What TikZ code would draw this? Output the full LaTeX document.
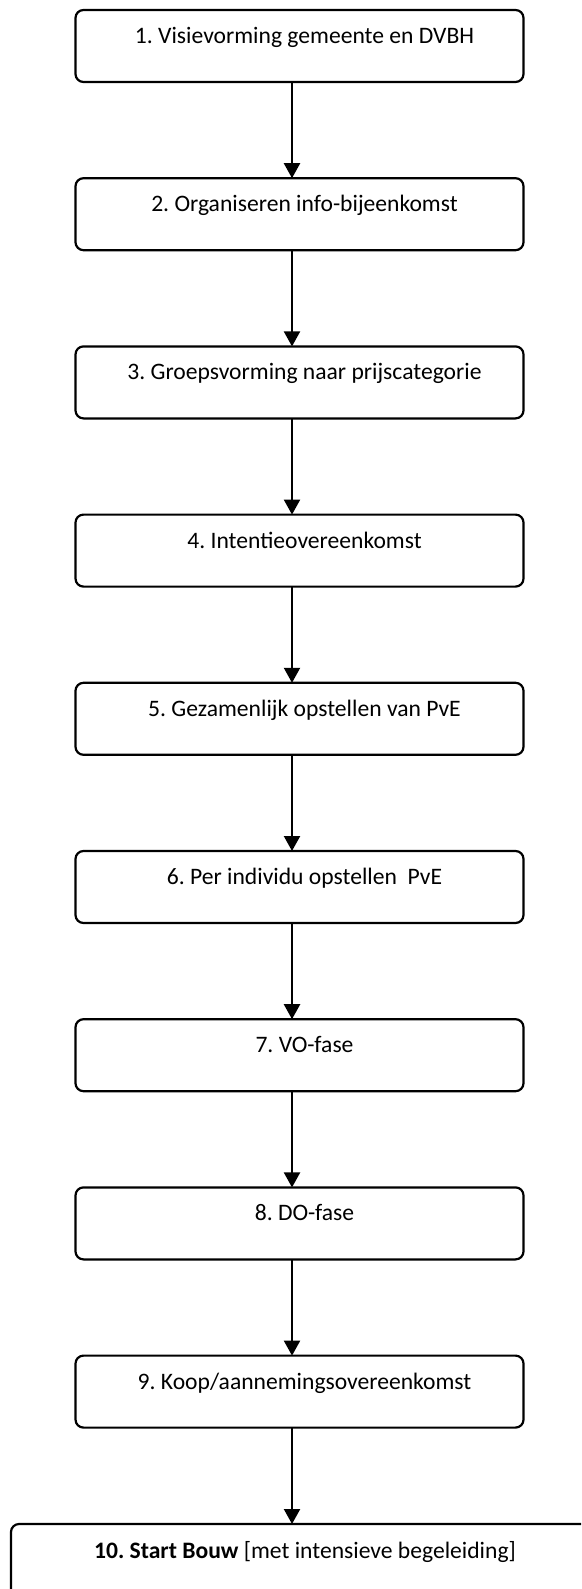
\documentclass[tikz,border=0pt]{standalone}
\usepackage{fontspec}
\setmainfont{Carlito}
\usetikzlibrary{arrows.meta}
\frenchspacing
\begin{document}
\begin{tikzpicture}[x=1pt,y=-1pt,
  stepbox/.style={draw, line width=2.2pt, rounded corners=8pt, minimum width=448pt,
    minimum height=72pt, inner sep=0pt, outer sep=0pt},
  steplabel/.style={anchor=base, inner sep=0pt, font=\fontsize{23.6}{28}\selectfont},
  flow/.style={line width=2.2pt, -{Triangle[width=16pt,length=15pt]}}]
  \useasboundingbox (0,0) rectangle (581,1589);
  \clip (0,0) rectangle (581,1589);
  % column of the connectors
  \coordinate (ax) at (292,0);
  % steps 1-9
  \foreach \i/\txt in {1/{1. Visievorming gemeente en DVBH},
                       2/{2. Organiseren info-bijeenkomst},
                       3/{3. Groepsvorming naar prijscategorie},
                       4/{4. Intentieovereenkomst},
                       5/{5. Gezamenlijk opstellen van PvE},
                       6/{6. Per individu opstellen~ PvE},
                       7/{7. VO-fase},
                       8/{8. DO-fase},
                       9/{9. Koop/aannemingsovereenkomst}} {
    \pgfmathsetmacro{\top}{10+168.2*(\i-1)}
    \node[stepbox, anchor=north west] (b\i) at (75.5,\top) {};
    \node[steplabel] (t\i) at (304.5,\top+33.5) {\txt};
  }
  % step 10, running past the page edge
  \node[stepbox, anchor=north west, minimum width=640pt, minimum height=120pt] (b10) at (11,1524) {};
  \node[steplabel] (t10) at (305,1524+34) {\textbf{10. Start Bouw} [met intensieve begeleiding]};
  % connectors
  \foreach \i [evaluate=\i as \j using int(\i+1)] in {1,...,9} {
    \draw[flow] (b\i.south -| ax) -- (b\j.north -| ax);
  }
\end{tikzpicture}
\end{document}
